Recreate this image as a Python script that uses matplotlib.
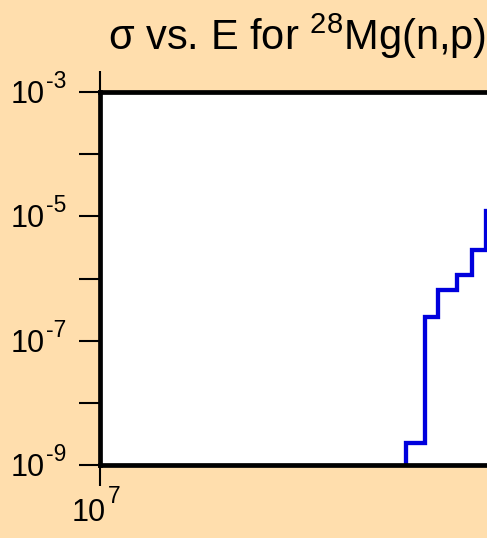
import matplotlib.pyplot as plt
from matplotlib.ticker import NullLocator
from matplotlib.transforms import offset_copy

plt.rcParams['font.family'] = 'Liberation Sans'
plt.rcParams['mathtext.fontset'] = 'custom'
plt.rcParams['mathtext.rm'] = 'Liberation Sans'
plt.rcParams['mathtext.it'] = 'Liberation Sans'

# Data: energy bin edges (eV) and cross sections (b)
energy = [1.71e7, 1.77e7, 1.81e7, 1.87e7, 1.92e7, 1.97e7, 2.0e7]
sigma = [2.26e-9, 2.4e-7, 6.5e-7, 1.13e-6, 2.9e-6, 1.2e-5, 1.2e-5]
floor = 1e-9

y_ticks = [1e-9, 1e-8, 1e-7, 1e-6, 1e-5, 1e-4, 1e-3]
y_exps = ['-9', '', '-7', '', '-5', '', '-3']
x_ticks = [1e7]
x_exps = ['7']

bg = '#FFDEAD'
fig = plt.figure(figsize=(4.87, 5.38), dpi=100, facecolor=bg)
ax = fig.add_axes([100 / 487, 73 / 538, 395 / 487, 373 / 538])
ax.set_facecolor('white')

ax.step([energy[0]] + energy, [floor] + sigma, where='post',
        color='#0000dd', lw=3.1, solid_joinstyle='miter')

ax.set_xscale('log')
ax.set_yscale('log')
ax.set_xlim(1e7, 2e7)
ax.set_ylim(1e-9, 1e-3)
ax.set_yticks(y_ticks, [''] * len(y_ticks))
ax.set_xticks(x_ticks, [''] * len(x_ticks))
ax.xaxis.set_minor_locator(NullLocator())
ax.yaxis.set_minor_locator(NullLocator())
ax.tick_params(direction='out', length=15, width=1.5, top=True)

for s in ax.spines.values():
    s.set_linewidth(3.4)

# power-of-ten labels: "10" plus a raised exponent
px = 72 / fig.dpi
ytr = ax.get_yaxis_transform()
for v, e in zip(y_ticks, y_exps):
    if not e:
        continue
    ax.text(0, v, '10', fontsize=22, ha='right', va='baseline',
            transform=offset_copy(ytr, fig, x=-55 * px, y=-11 * px, units='points'))
    ax.text(0, v, e, fontsize=16.5, ha='left', va='baseline',
            transform=offset_copy(ytr, fig, x=-54 * px, y=4 * px, units='points'))

xtr = ax.get_xaxis_transform()
for v, e in zip(x_ticks, x_exps):
    ax.text(v, 0, '10', fontsize=22, ha='right', va='baseline',
            transform=offset_copy(xtr, fig, x=6 * px, y=-56 * px, units='points'))
    ax.text(v, 0, e, fontsize=16.5, ha='left', va='baseline',
            transform=offset_copy(xtr, fig, x=8 * px, y=-38 * px, units='points'))

ax.set_title(r'σ vs. E for $\mathregular{^{28}}$Mg(n,p)', fontsize=30, pad=30)

fig.savefig('out.png', dpi=100, facecolor=bg)
